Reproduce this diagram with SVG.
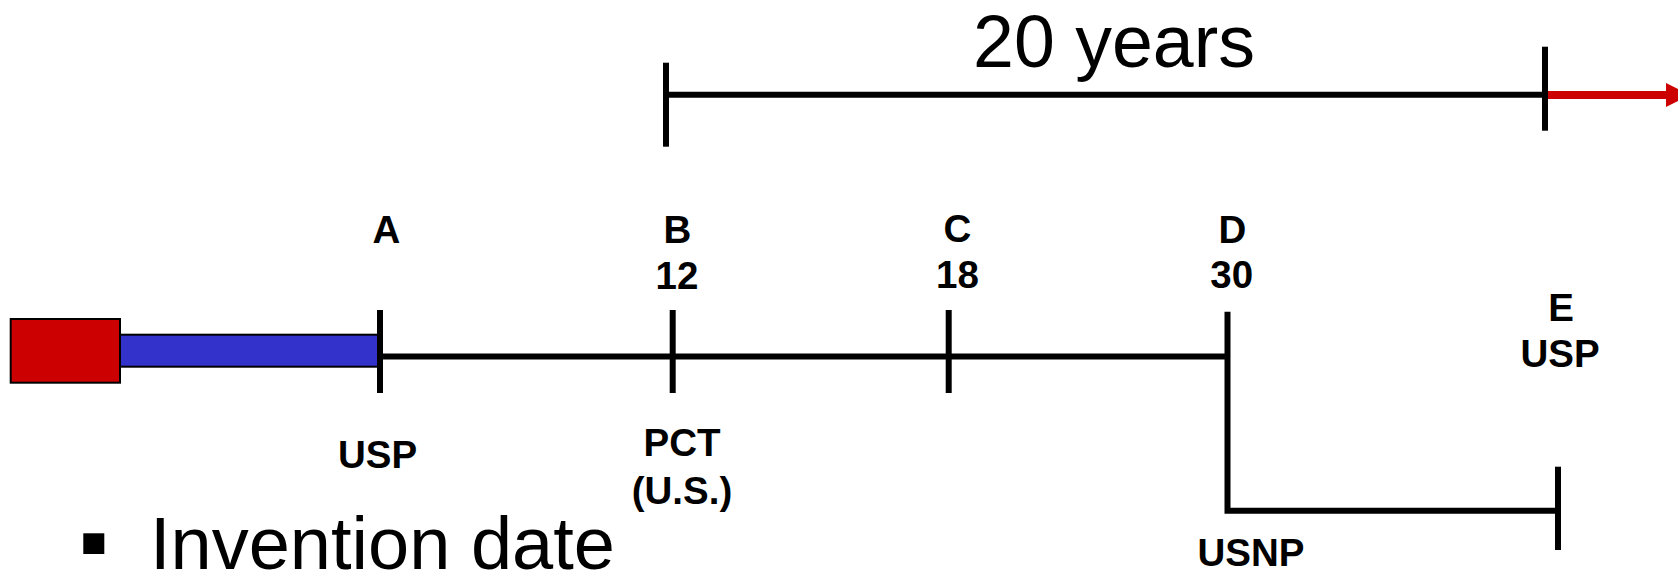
<svg xmlns="http://www.w3.org/2000/svg" width="1678" height="570" viewBox="0 0 1678 570">
  <style>
    .ln { stroke: #000; stroke-width: 6; fill: none; stroke-linecap: butt; }
    .lbl { font-family: "Liberation Sans", Arial, sans-serif; font-weight: bold; font-size: 38.5px; fill: #000; text-anchor: middle; }
    .big { font-family: "Liberation Sans", Arial, sans-serif; font-size: 74px; fill: #000; }
  </style>
  <defs>
    <marker id="redHead" viewBox="0 0 10 10" refX="0" refY="5" markerWidth="3" markerHeight="3" markerUnits="strokeWidth" orient="auto">
      <path d="M0,0 L10,5 L0,10 Z" fill="#CC0000"/>
    </marker>
  </defs>

  <rect width="1678" height="570" fill="#fff"/>

  <!-- 20-year term bar -->
  <g id="term">
    <line class="ln" x1="666" y1="94.7" x2="1545" y2="94.7"/>
    <line class="ln" x1="666" y1="62.7" x2="666" y2="146.7"/>
    <line class="ln" x1="1545" y1="46.7" x2="1545" y2="130.7"/>
    <text class="big" x="973" y="66.5" textLength="282" lengthAdjust="spacingAndGlyphs">20 years</text>
  </g>

  <!-- extension arrow past the term -->
  <g id="extension">
    <line x1="1548" y1="95" x2="1666" y2="95" stroke="#CC0000" stroke-width="8" marker-end="url(#redHead)"/>
  </g>

  <!-- invention and filing bars -->
  <g id="invention">
    <rect x="10.7" y="319" width="109.3" height="63.7" fill="#CC0000" stroke="#000" stroke-width="2"/>
  </g>
  <g id="priority-year">
    <rect x="120" y="334.7" width="258" height="32" fill="#3333CC" stroke="#000" stroke-width="2"/>
  </g>

  <!-- timeline connectors -->
  <g id="connectors">
    <line class="ln" x1="380" y1="356.5" x2="1227.5" y2="356.5"/>
    <polyline class="ln" points="1227.5,311.7 1227.5,510.7 1558,510.7"/>
  </g>

  <g id="node-A">
    <line class="ln" x1="380" y1="310" x2="380" y2="393"/>
    <text class="lbl" x="386.5" y="243">A</text>
    <text class="lbl" x="377.5" y="468">USP</text>
  </g>

  <g id="node-B">
    <line class="ln" x1="672.7" y1="310" x2="672.7" y2="393"/>
    <text class="lbl" x="677.5" y="243">B</text>
    <text class="lbl" x="677" y="289">12</text>
    <text class="lbl" x="682" y="456">PCT</text>
    <text class="lbl" x="682" y="504">(U.S.)</text>
  </g>

  <g id="node-C">
    <line class="ln" x1="948.7" y1="310" x2="948.7" y2="393"/>
    <text class="lbl" x="957.5" y="242">C</text>
    <text class="lbl" x="957.5" y="288">18</text>
  </g>

  <g id="node-D">
    <text class="lbl" x="1232.5" y="243">D</text>
    <text class="lbl" x="1231.7" y="288">30</text>
    <text class="lbl" x="1251" y="566">USNP</text>
  </g>

  <g id="node-E">
    <line class="ln" x1="1558" y1="466.7" x2="1558" y2="550"/>
    <text class="lbl" x="1561" y="321">E</text>
    <text class="lbl" x="1560" y="367">USP</text>
  </g>

  <!-- bullet item -->
  <g id="bullet">
    <rect x="83.3" y="533.3" width="21" height="20.7" fill="#000"/>
    <text class="big" x="150" y="569">Invention date</text>
  </g>
</svg>
